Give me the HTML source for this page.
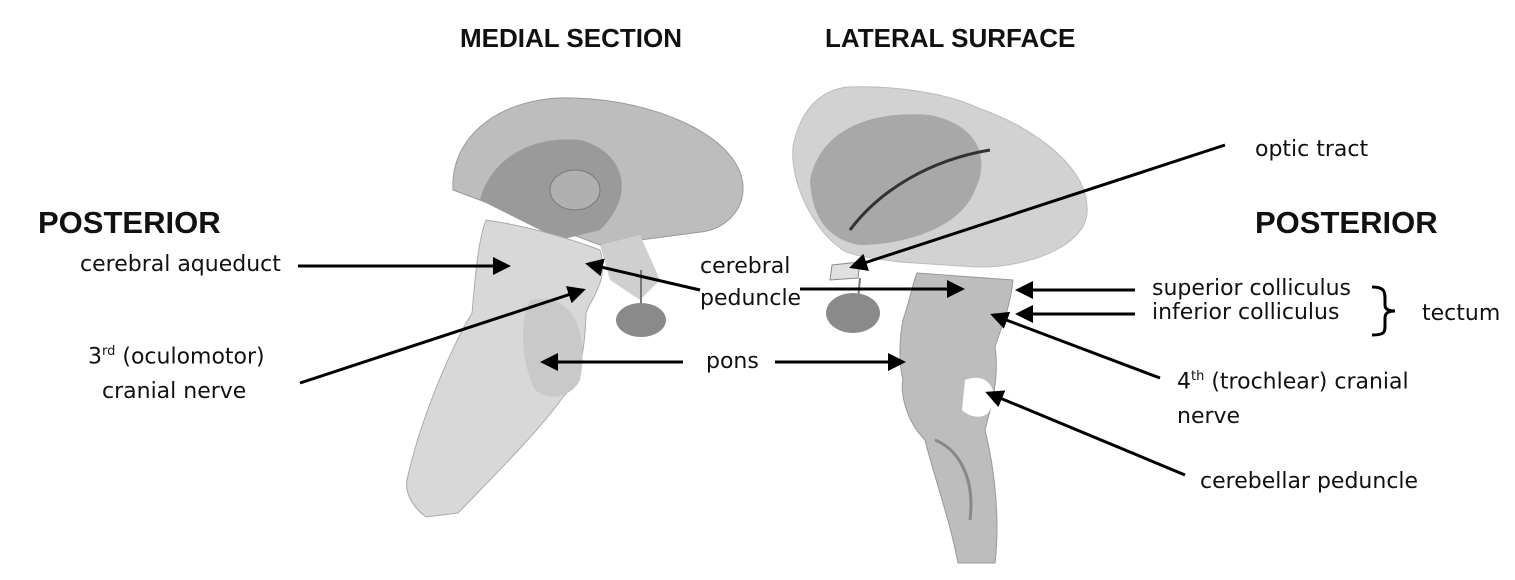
<!DOCTYPE html>
<html><head><meta charset="utf-8"><style>
html,body{margin:0;padding:0;background:#fff;}
body{width:1515px;height:580px;position:relative;overflow:hidden;font-family:"DejaVu Sans","Liberation Sans",sans-serif;}
.t{position:absolute;font-size:22px;color:#111;white-space:nowrap;line-height:1;}
.b{font-family:"Liberation Sans",sans-serif;font-weight:bold;}
sup{font-size:13px;}
svg{position:absolute;left:0;top:0;}
</style></head><body>
<svg width="1515" height="580" viewBox="0 0 1515 580">
<defs>
<marker id="a" markerWidth="6" markerHeight="6" refX="5" refY="3" orient="auto" markerUnits="strokeWidth"><path d="M0,0 L6,3 L0,6 z" fill="#000"/></marker>
</defs>
<path d="M453,190 C450,130 510,95 573,98 C660,100 745,140 743,190 C742,215 720,230 701,232 L640,240 L600,245 Z" fill="#bdbdbd" stroke="#999"/>
<path d="M480,200 C490,160 530,135 580,140 C620,150 640,190 600,230 L560,240 Z" fill="#9a9a9a"/>
<ellipse cx="575" cy="190" rx="25" ry="20" fill="#b0b0b0" stroke="#777"/>
<path d="M486,220 C520,225 560,235 600,250 C610,280 590,300 586,313 C585,350 580,380 563,397 C540,430 490,480 458,513 L426,517 C410,505 405,490 407,480 C420,420 450,350 472,313 C475,280 478,240 486,220 Z" fill="#d8d8d8" stroke="#aaa"/>
<path d="M530,300 C570,290 590,330 580,380 C570,400 545,400 535,390 C520,360 520,320 530,300 Z" fill="#c9c9c9"/>
<path d="M600,245 L640,235 L660,280 L640,300 L610,280 Z" fill="#cfcfcf"/>
<line x1="641" y1="270" x2="641" y2="305" stroke="#777" stroke-width="2"/>
<ellipse cx="641" cy="320" rx="25" ry="17" fill="#8a8a8a"/>
<path d="M793,147 C800,110 820,90 848,87 C900,85 950,95 976,107 C1040,130 1090,170 1087,213 C1085,245 1030,268 976,267 L900,262 C870,258 845,255 839,247 C815,230 790,185 793,147 Z" fill="#d2d2d2" stroke="#bbb"/>
<path d="M810,180 C820,130 870,110 930,115 C980,125 990,160 975,190 C960,230 900,245 860,245 C830,240 812,220 810,180 Z" fill="#a8a8a8"/>
<path d="M850,230 C880,190 930,160 990,150" stroke="#333" stroke-width="3" fill="none"/>
<path d="M832,265 L860,262 L858,278 L830,280 Z" fill="#e0e0e0" stroke="#888"/>
<line x1="860" y1="278" x2="858" y2="300" stroke="#777" stroke-width="2"/>
<ellipse cx="853" cy="313" rx="27" ry="20" fill="#8a8a8a"/>
<path d="M917,273 L1013,280 C1010,310 1000,330 995,347 C1000,380 990,410 985,430 C995,470 1000,520 995,563 L958,563 C950,520 935,480 925,440 C905,420 900,390 903,380 C898,360 900,335 903,320 C910,300 912,285 917,273 Z" fill="#bdbdbd" stroke="#999"/>
<path d="M965,380 C990,370 1000,395 990,410 C985,420 970,418 962,410 Z" fill="#fff"/>
<path d="M935,440 C960,450 975,480 970,520" stroke="#888" stroke-width="3" fill="none"/>
<g stroke="#000" stroke-width="3" fill="none" marker-end="url(#a)">
<line x1="298" y1="266" x2="508" y2="266"/>
<line x1="700" y1="290" x2="588" y2="264"/>
<line x1="300" y1="383" x2="583" y2="290"/>
<line x1="800" y1="289" x2="962" y2="289"/>
<line x1="683" y1="362" x2="543" y2="362"/>
<line x1="775" y1="362" x2="903" y2="362"/>
<line x1="1225" y1="145" x2="852" y2="267"/>
<line x1="1135" y1="290" x2="1018" y2="290"/>
<line x1="1135" y1="314" x2="1018" y2="314"/>
<line x1="1160" y1="378" x2="993" y2="315"/>
<line x1="1185" y1="475" x2="988" y2="393"/>
</g>
<path d="M1372,287 C1385,287 1385,292 1385,300 L1385,305 C1385,310 1390,311 1395,311 C1390,311 1385,312 1385,318 L1385,325 C1385,332 1385,335 1372,335" stroke="#000" stroke-width="3" fill="none"/>
</svg>
<div class="t b" style="left:460px;top:25px;font-size:26px;">MEDIAL SECTION</div>
<div class="t b" style="left:825px;top:25px;font-size:26px;">LATERAL SURFACE</div>
<div class="t b" style="left:38px;top:207px;font-size:31px;">POSTERIOR</div>
<div class="t b" style="left:1255px;top:207px;font-size:31px;">POSTERIOR</div>
<div class="t" style="left:80px;top:254px;">cerebral aqueduct</div>
<div class="t" style="left:88px;top:345px;">3<sup>rd</sup> (oculomotor)</div>
<div class="t" style="left:102px;top:381px;">cranial nerve</div>
<div class="t" style="left:700px;top:256px;">cerebral</div>
<div class="t" style="left:700px;top:288px;">peduncle</div>
<div class="t" style="left:706px;top:351px;">pons</div>
<div class="t" style="left:1255px;top:139px;">optic tract</div>
<div class="t" style="left:1152px;top:278px;">superior colliculus</div>
<div class="t" style="left:1152px;top:302px;">inferior colliculus</div>
<div class="t" style="left:1422px;top:303px;">tectum</div>
<div class="t" style="left:1177px;top:370px;">4<sup>th</sup> (trochlear) cranial</div>
<div class="t" style="left:1177px;top:406px;">nerve</div>
<div class="t" style="left:1200px;top:471px;">cerebellar peduncle</div>
</body></html>
